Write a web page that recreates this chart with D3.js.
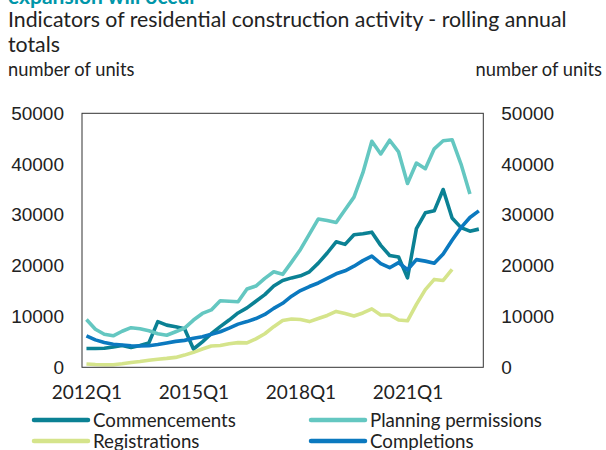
<!DOCTYPE html>
<html>
<head>
<meta charset="utf-8">
<script src="https://cdn.jsdelivr.net/npm/d3@7"></script>
<style>
  html, body { margin: 0; padding: 0; background: #fff; }
  svg { display: block; }
</style>
</head>
<body>
<svg id="chart" width="606" height="450"></svg>
<script>
const quarters = [
  "2012Q1","2012Q2","2012Q3","2012Q4","2013Q1","2013Q2","2013Q3","2013Q4",
  "2014Q1","2014Q2","2014Q3","2014Q4","2015Q1","2015Q2","2015Q3","2015Q4",
  "2016Q1","2016Q2","2016Q3","2016Q4","2017Q1","2017Q2","2017Q3","2017Q4",
  "2018Q1","2018Q2","2018Q3","2018Q4","2019Q1","2019Q2","2019Q3","2019Q4",
  "2020Q1","2020Q2","2020Q3","2020Q4","2021Q1","2021Q2","2021Q3","2021Q4",
  "2022Q1","2022Q2","2022Q3","2022Q4","2023Q1"
];
const xTickLabels = ["2012Q1","2015Q1","2018Q1","2021Q1"];
const yTickValues = [0, 10000, 20000, 30000, 40000, 50000];

const commencements = [
  3700, 3700, 3750, 4000, 4300, 3900, 4300, 4800,
  9000, 8300, 8000, 7600, 3600, 5000, 6600, 8000,
  9300, 10700, 11700, 13000, 14300, 16000, 17100, 17600,
  18000, 18800, 20500, 22500, 24700, 24200, 26100, 26300,
  26600, 24000, 22000, 21700, 17600, 27300, 30400, 30800,
  35000, 29400, 27500, 26800, 27200
];
const planningPermissions = [
  9400, 7500, 6500, 6200, 7100, 7800, 7600, 7200,
  6600, 6300, 7000, 7700, 9300, 10600, 11300, 13100,
  13000, 12900, 15400, 16000, 17500, 18800, 18300, 20700,
  23200, 26200, 29200, 28900, 28500, 31000, 33500, 38300,
  44500, 42000, 44700, 42400, 36200, 40200, 39100, 43000,
  44600, 44800, 40000, 34100, null
];
const registrations = [
  650, 550, 500, 500, 700, 950, 1150, 1400,
  1600, 1750, 1950, 2400, 2950, 3600, 4200, 4300,
  4650, 4850, 4800, 5600, 6600, 8000, 9200, 9500,
  9400, 9000, 9600, 10200, 11000, 10600, 10100, 10700,
  11500, 10300, 10300, 9300, 9150, 12400, 15300, 17300,
  17100, 19300, null, null, null
];
const completions = [
  6200, 5400, 4900, 4550, 4400, 4250, 4200, 4250,
  4500, 4800, 5100, 5300, 5700, 6000, 6500, 7000,
  7700, 8500, 9000, 9600, 10400, 11600, 12600, 14000,
  15100, 15900, 16600, 17500, 18400, 19000, 19900, 21000,
  21900, 20400, 19600, 20600, 19200, 21200, 20900, 20500,
  22300, 25000, 27500, 29500, 30800
];

const seriesNames = ["Commencements", "Planning permissions", "Registrations", "Completions"];
const seriesColors = ["#0b8194", "#64c7c1", "#d5e48b", "#0b79bf"];

const series = [
  { name: seriesNames[0], values: commencements, color: seriesColors[0] },
  { name: seriesNames[1], values: planningPermissions, color: seriesColors[1] },
  { name: seriesNames[2], values: registrations, color: seriesColors[2] },
  { name: seriesNames[3], values: completions, color: seriesColors[3] }
];

const svg = d3.select("#chart");
const plot = { left: 82, right: 483.3, top: 113.3, bottom: 367.3 };

const x = d3.scalePoint().domain(quarters).range([plot.left, plot.right]).padding(0.5);
const y = d3.scaleLinear().domain([0, 50000]).range([plot.bottom, plot.top]);

const fontLato = "Lato, 'Open Sans', sans-serif";
const fontNum = "'Liberation Sans', Arial, sans-serif";

// Titles
svg.append("text").attr("x", 8).attr("y", 4)
  .attr("font-family", fontLato).attr("font-weight", "bold").attr("font-size", 21)
  .attr("fill", "#0096a9").text("expansion will occur");
svg.append("text").attr("x", 8).attr("y", 27)
  .attr("font-family", fontLato).attr("font-size", 21.3).attr("fill", "#222")
  .text("Indicators of residential construction activity - rolling annual");
svg.append("text").attr("x", 8).attr("y", 52)
  .attr("font-family", fontLato).attr("font-size", 21.3).attr("fill", "#222")
  .text("totals");
svg.append("text").attr("x", 8).attr("y", 76)
  .attr("font-family", fontLato).attr("font-size", 18.3).attr("fill", "#222")
  .text("number of units");
svg.append("text").attr("x", 602).attr("y", 76).attr("text-anchor", "end")
  .attr("font-family", fontLato).attr("font-size", 18.3).attr("fill", "#222")
  .text("number of units");

// Axes
const fmt = d3.format("d");
const gL = svg.append("g").attr("transform", `translate(${plot.left},0)`)
  .call(d3.axisLeft(y).tickValues(yTickValues).tickFormat(fmt).tickSize(0).tickPadding(18));
const gR = svg.append("g").attr("transform", `translate(${plot.right},0)`)
  .call(d3.axisRight(y).tickValues(yTickValues).tickFormat(fmt).tickSize(0).tickPadding(18));
const gB = svg.append("g").attr("transform", `translate(0,${plot.bottom})`)
  .call(d3.axisBottom(x).tickValues(xTickLabels).tickSize(0).tickPadding(18));
[gL, gR].forEach(g => {
  g.select(".domain").remove();
  g.selectAll("text").attr("font-family", fontNum).attr("font-size", 19).attr("fill", "#222");
});
gB.select(".domain").remove();
gB.selectAll("text").attr("font-family", fontLato).attr("font-size", 19).attr("fill", "#222");

// Lines
const line = d3.line()
  .defined(d => d.v != null)
  .x(d => x(d.q))
  .y(d => y(d.v));

svg.append("clipPath").attr("id", "plotclip").append("rect")
  .attr("x", plot.left).attr("y", plot.top - 5)
  .attr("width", plot.right - plot.left).attr("height", plot.bottom - plot.top + 5);

svg.append("g").attr("clip-path", "url(#plotclip)")
  .selectAll("path").data(series).join("path")
  .attr("fill", "none")
  .attr("stroke", d => d.color)
  .attr("stroke-width", 3.6)
  .attr("stroke-linejoin", "round")
  .attr("d", d => line(d.values.map((v, i) => ({ q: quarters[i], v }))));

// Plot frame
svg.append("rect")
  .attr("x", plot.left).attr("y", plot.top)
  .attr("width", plot.right - plot.left).attr("height", plot.bottom - plot.top)
  .attr("fill", "none").attr("stroke", "#333").attr("stroke-width", 1);

// Legend
const legendPos = [
  { lx: 34, ty: 420 }, { lx: 311, ty: 420 },
  { lx: 34, ty: 441 }, { lx: 311, ty: 441 }
];
const lg = svg.append("g").selectAll("g").data(series).join("g")
  .attr("transform", (d, i) => `translate(${legendPos[i].lx},${legendPos[i].ty})`);
lg.append("line").attr("x1", 0).attr("x2", 54).attr("y1", 0).attr("y2", 0)
  .attr("stroke", d => d.color).attr("stroke-width", 4.5).attr("stroke-linecap", "round");
lg.append("text").attr("x", 59).attr("y", 0).attr("dy", "0.35em")
  .attr("font-family", fontLato).attr("font-size", 18.7).attr("fill", "#222")
  .text(d => d.name);
</script>
</body>
</html>
